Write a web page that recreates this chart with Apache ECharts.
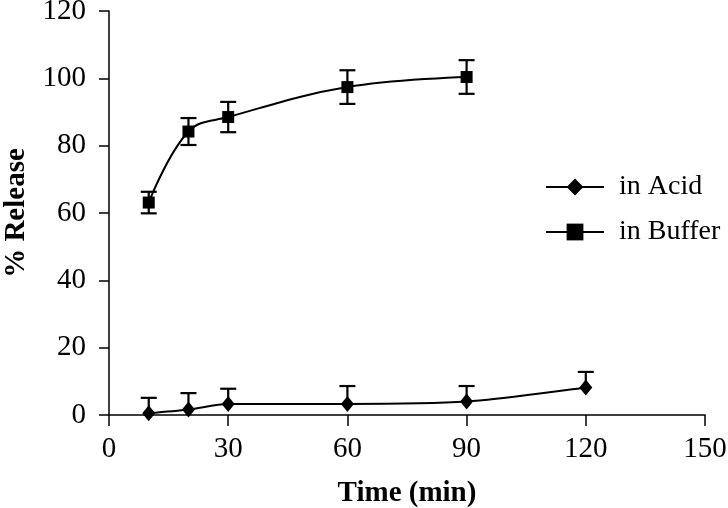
<!DOCTYPE html>
<html>
<head>
<meta charset="utf-8">
<script src="https://cdn.jsdelivr.net/npm/echarts@6/dist/echarts.min.js"></script>
<style>html,body{margin:0;padding:0;background:#fff;}#c{width:728px;height:508px;}</style>
</head>
<body>
<div id="c"></div>
<script>
const acidTimes = [10, 20, 30, 60, 90, 120];
const acidRelease = [0.5, 1.6, 3.3, 3.3, 4.0, 8.2];
const acidError = [4.6, 4.9, 4.5, 5.3, 4.6, 4.6];
const bufferTimes = [10, 20, 30, 60, 90];
const bufferRelease = [63.1, 84.2, 88.5, 97.4, 100.4];
const bufferError = [3.2, 4.0, 4.5, 5.0, 5.0];
const xTicks = [0, 30, 60, 90, 120, 150];
const yTicks = [0, 20, 40, 60, 80, 100, 120];

const FONT = 'Liberation Serif';
const chart = echarts.init(document.getElementById('c'), null, {renderer: 'canvas'});

function errData(ts, vals, errs, upOnly) {
  return ts.map((t, i) => [t, upOnly ? vals[i] : vals[i] - errs[i], vals[i] + errs[i], upOnly ? 1 : 0]);
}
function renderErr(params, api) {
  const x = api.value(0);
  const lo = api.coord([x, api.value(1)]);
  const hi = api.coord([x, api.value(2)]);
  const upOnly = api.value(3) === 1;
  const w = 8;
  const st = {stroke: '#000', lineWidth: 2.2};
  const children = [
    {type: 'line', shape: {x1: lo[0], y1: lo[1], x2: hi[0], y2: hi[1]}, style: st},
    {type: 'line', shape: {x1: hi[0] - w, y1: hi[1], x2: hi[0] + w, y2: hi[1]}, style: st}
  ];
  if (!upOnly) children.push({type: 'line', shape: {x1: lo[0] - w, y1: lo[1], x2: lo[0] + w, y2: lo[1]}, style: st});
  return {type: 'group', children: children};
}

chart.setOption({
  animation: false,
  backgroundColor: '#fff',
  grid: {left: 109, right: 23, top: 11, bottom: 93, containLabel: false, outerBoundsMode: 'none'},
  xAxis: {
    type: 'value', min: xTicks[0], max: xTicks[xTicks.length - 1], interval: 30,
    name: 'Time (min)', nameLocation: 'middle', nameGap: 64,
    nameTextStyle: {fontFamily: FONT, fontWeight: 'bold', fontSize: 29, color: '#000'},
    axisLine: {lineStyle: {color: '#000', width: 1.5}},
    axisTick: {show: true, length: 11, lineStyle: {color: '#000', width: 1.5}},
    axisLabel: {fontFamily: FONT, fontSize: 29, color: '#000', margin: 20},
    splitLine: {show: false}
  },
  yAxis: {
    type: 'value', min: yTicks[0], max: yTicks[yTicks.length - 1], interval: 20,
    name: '% Release', nameLocation: 'middle', nameGap: 78, nameRotate: 90,
    nameTextStyle: {fontFamily: FONT, fontWeight: 'bold', fontSize: 29, color: '#000'},
    axisLine: {show: true, lineStyle: {color: '#000', width: 1.5}},
    axisTick: {show: true, length: 10, lineStyle: {color: '#000', width: 1.5}},
    axisLabel: {fontFamily: FONT, fontSize: 29, color: '#000', margin: 23},
    splitLine: {show: false}
  },
  legend: {
    orient: 'vertical', left: 540, top: 168, itemGap: 17, itemWidth: 58, itemHeight: 21,
    lineStyle: {width: 2},
    textStyle: {fontFamily: FONT, fontSize: 28, color: '#000', padding: [0, 0, 0, 10]},
    data: ['in Acid', 'in Buffer']
  },
  series: [
    {type: 'custom', name: 'acidErr', renderItem: renderErr, data: errData(acidTimes, acidRelease, acidError, true), z: 2, silent: true},
    {type: 'custom', name: 'bufferErr', renderItem: renderErr, data: errData(bufferTimes, bufferRelease, bufferError, false), z: 2, silent: true},
    {
      type: 'line', name: 'in Acid', data: acidTimes.map((t, i) => [t, acidRelease[i]]),
      smooth: 0.3, symbol: 'diamond', symbolSize: [13, 16], showAllSymbol: true,
      lineStyle: {color: '#000', width: 2}, itemStyle: {color: '#000', borderWidth: 0}, z: 3
    },
    {
      type: 'line', name: 'in Buffer', data: bufferTimes.map((t, i) => [t, bufferRelease[i]]),
      smooth: 0.4, symbol: 'rect', symbolSize: 12, showAllSymbol: true,
      lineStyle: {color: '#000', width: 2}, itemStyle: {color: '#000', borderWidth: 0}, z: 3
    }
  ]
});
</script>
</body>
</html>
